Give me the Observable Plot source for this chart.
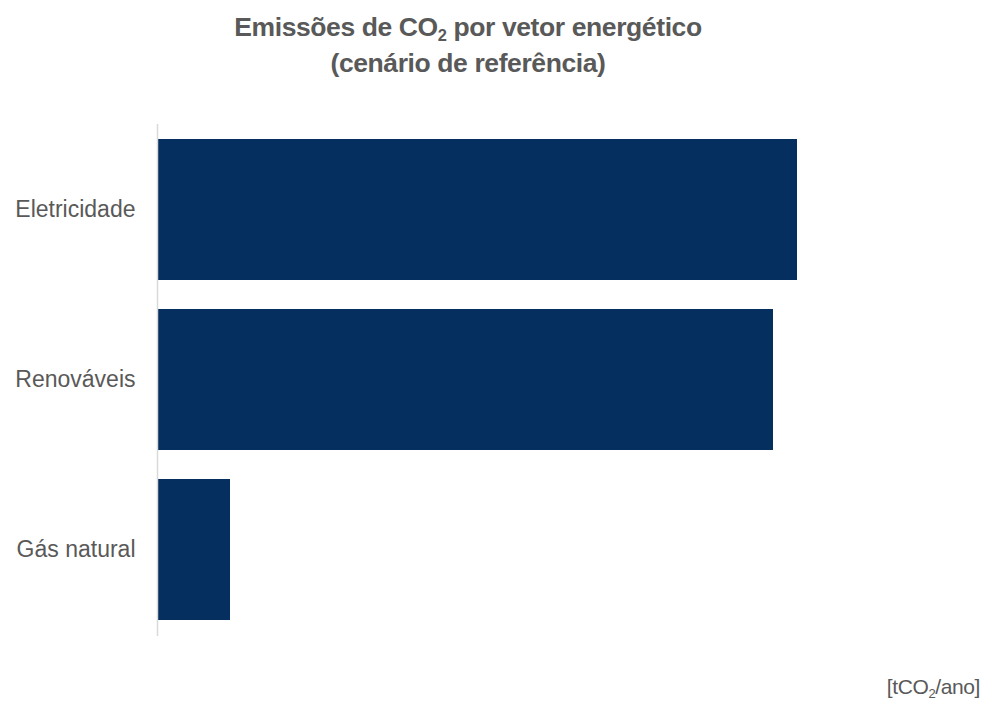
<!DOCTYPE html>
<html>
<head>
<meta charset="utf-8">
<script src="https://cdn.jsdelivr.net/npm/d3@7"></script>
<script src="https://cdn.jsdelivr.net/npm/@observablehq/plot@0.6"></script>
<style>
  html, body { margin: 0; padding: 0; background: #ffffff; }
  body { width: 989px; height: 711px; overflow: hidden; font-family: "Liberation Sans", Arial, sans-serif; }
  #title { width: 936px; height: 100px; box-sizing: border-box; padding-top: 9px; text-align: center;
           font-size: 26.5px; font-weight: bold; line-height: 36px; color: #595959; letter-spacing: -0.4px; }
  #title sub, #caption sub { font-size: 62%; vertical-align: -0.3em; line-height: 0; }
  #chart { height: 560px; }
  #caption { text-align: right; padding-right: 9px; padding-top: 15px; font-size: 21px; color: #595959; letter-spacing: -0.4px; }
</style>
</head>
<body>
<div id="title">Emissões de CO<sub>2</sub> por vetor energético<br>(cenário de referência)</div>
<div id="chart"></div>
<div id="caption">[tCO<sub>2</sub>/ano]</div>
<script>
const categories = ["Eletricidade", "Renováveis", "Gás natural"];
const values = [640, 616, 73];

const data = categories.map((c, i) => ({categoria: c, valor: values[i]}));

const chart = Plot.plot({
  width: 989,
  height: 560,
  marginLeft: 157,
  marginRight: 32,
  marginTop: 24,
  marginBottom: 24,
  style: {fontFamily: "'Liberation Sans', Arial, sans-serif", color: "#595959", background: "transparent"},
  x: {domain: [0, 800], axis: null},
  y: {domain: categories, paddingInner: 0.17, paddingOuter: 0.085, label: null},
  marks: [
    Plot.barX(data, {x: "valor", y: "categoria", fill: "#042f5e"}),
    Plot.ruleX([0], {stroke: "#d9d9d9", strokeWidth: 1.5}),
    Plot.axisY({tickSize: 0, tickPadding: 22, fontSize: 23, label: null, fill: "#595959"})
  ]
});
document.getElementById("chart").appendChild(chart);
</script>
</body>
</html>
